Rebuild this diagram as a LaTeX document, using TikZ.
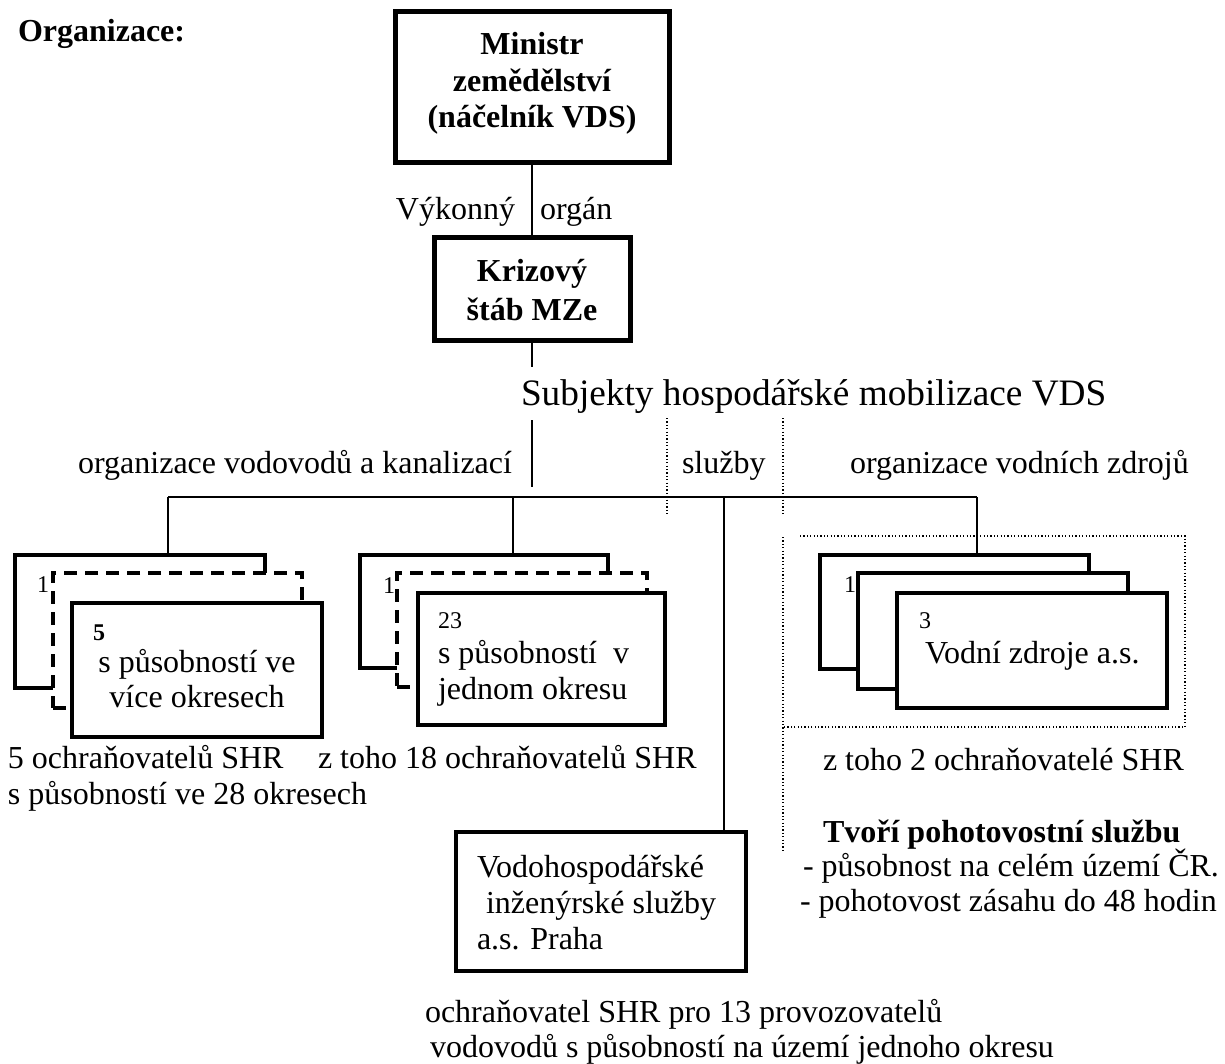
\documentclass[tikz,border=0pt]{standalone}
\usepackage{fontspec}
\setmainfont{Liberation Serif}
\newcommand\nfont{\fontsize{32}{36.8}\selectfont}
\newcommand\bfont{\fontsize{32}{36.8}\selectfont\bfseries}
\newcommand\smfont{\fontsize{24}{28}\selectfont}
\newcommand\bigfont{\fontsize{37.3}{42}\selectfont}
\begin{document}
\begin{tikzpicture}[x=1pt,y=-1pt,
  every node/.style={inner sep=0pt, outer sep=0pt},
  txt/.style={anchor=base west, font=\nfont},
  txtc/.style={anchor=base, font=\nfont},
  txte/.style={anchor=base east, font=\nfont},
  num/.style={anchor=base west, font=\smfont},
  headbox/.style={draw, line width=5pt, fill=white},
  stackbox/.style={draw, line width=4pt, fill=white},
  dashbox/.style={draw, line width=4pt, fill=white, dash pattern=on 13pt off 8pt},
  conn/.style={line width=1.5pt},
  bar/.style={line width=2.5pt},
  dots/.style={line width=1.2pt, dash pattern=on 1.2pt off 2.2pt}
]
\useasboundingbox (0,0) rectangle (1225,1064);

\node[txt, font=\bfont] (org) at (18,42) {Organizace:};

% head boxes
\node[headbox, minimum width=274pt, minimum height=151pt] (min) at (532,87.5) {};
\node[txtc, font=\bfont] (min1) at (532,55) {Ministr};
\node[txtc, font=\bfont] (min2) at (532,92) {zemědělství};
\node[txtc, font=\bfont] (min3) at (532,128) {(náčelník VDS)};

\node[headbox, minimum width=196pt, minimum height=102pt] (kriz) at (532,289) {};
\node[txtc, font=\bfont] (kriz1) at (532,282) {Krizový};
\node[txtc, font=\bfont] (kriz2) at (532,320) {štáb MZe};

\draw[conn] (min.south) -- (kriz.north);
\node[txte] (vyk) at (515,220) {Výkonný};
\node[txt] (orgn) at (540,220) {orgán};

\coordinate (subjtop) at (532,367);
\draw[conn] (kriz.south) -- (subjtop);
\node[txt, font=\bigfont] (subj) at (521,405) {Subjekty hospodářské mobilizace VDS};

\coordinate (s1) at (532,420);
\coordinate (s2) at (532,487);
\draw[conn] (s1) -- (s2);

\coordinate (d1a) at (667,418);
\coordinate (d1b) at (667,515);
\coordinate (d2a) at (783,418);
\coordinate (d2b) at (783,515);
\draw[dots] (d1a) -- (d1b);
\draw[dots] (d2a) -- (d2b);

\node[txte] (ovk) at (512,473) {organizace vodovodů a kanalizací};
\node[txt] (sluz) at (682,473) {služby};
\node[txt] (ovz) at (850,473) {organizace vodních zdrojů};

% bar
\coordinate (bl) at (168,497);
\coordinate (bm) at (513,497);
\coordinate (bs) at (724,497);
\coordinate (br) at (977,497);
\draw[bar] (bl) -- (br);

% left stack
\node[stackbox, minimum width=250pt, minimum height=133pt] (L1) at (140,621.5) {};
\node[num] (L1n) at (37,592) {1};
\node[dashbox, minimum width=249pt, minimum height=135pt] (L2) at (177.5,640.5) {};
\node[stackbox, minimum width=250pt, minimum height=134pt] (L3) at (197,670) {};
\node[num, font=\smfont\bfseries] (L3n) at (93,640) {5};
\node[txtc] (L3a) at (197,672) {s působností ve};
\node[txtc] (L3b) at (197,707) {více okresech};

% middle stack
\node[stackbox, minimum width=248pt, minimum height=113pt] (M1) at (484,611.5) {};
\node[num] (M1n) at (383,593) {1};
\node[dashbox, minimum width=250pt, minimum height=114pt] (M2) at (522,630) {};
\node[stackbox, minimum width=247pt, minimum height=132pt] (M3) at (541.5,659) {};
\node[num] (M3n) at (438,628) {23};
\node[txt] (M3a) at (438,663) {s působností\ \ v};
\node[txt] (M3b) at (438,699) {jednom okresu};

% right stack
\node[stackbox, minimum width=269pt, minimum height=114pt] (R1) at (954.5,612) {};
\node[num] (R1n) at (844,592) {1};
\node[stackbox, minimum width=270pt, minimum height=116pt] (R2) at (993,631) {};
\node[stackbox, minimum width=270pt, minimum height=115pt] (R3) at (1032,650.5) {};
\node[num] (R3n) at (919,628) {3};
\node[txt] (R3a) at (925,663) {Vodní zdroje a.s.};

% services box
\node[draw, line width=3.5pt, fill=white, minimum width=290pt, minimum height=139pt] (vodo) at (601,901.5) {};
\node[txt] (vodo1) at (477,877) {Vodohospodářské};
\node[txt] (vodo2) at (486,913) {inženýrské služby};
\node[txt] (vodo3) at (477,949) {a.s. Praha};

% drops
\draw[conn] (bl) -- (bl |- L1.north);
\draw[conn] (bm) -- (bm |- M1.north);
\draw[conn] (bs) -- (bs |- vodo.north);
\draw[conn] (br) -- (br |- R1.north);

% dotted frame
\draw[dots] (800,536) -- (1185,536) -- (1185,727) -- (783,727);
\draw[dots] (783,537) -- (783,852);

% texts below
\node[txt] (t1) at (8,768) {5 ochraňovatelů SHR};
\node[txt] (t2) at (8,804) {s působností ve 28 okresech};
\node[txt] (t3) at (318,768) {z toho 18 ochraňovatelů SHR};
\node[txt] (t4) at (823,770) {z toho 2 ochraňovatelé SHR};
\node[txt, font=\bfont] (t5) at (823,842) {Tvoří pohotovostní službu};
\node[txt] (t6) at (803,876) {- působnost na celém území ČR.};
\node[txt] (t7) at (800,911) {- pohotovost zásahu do 48 hodin};
\node[txt] (t8) at (425,1022) {ochraňovatel SHR pro 13 provozovatelů};
\node[txt] (t9) at (430,1057) {vodovodů s působností na území jednoho okresu};
\end{tikzpicture}
\end{document}
